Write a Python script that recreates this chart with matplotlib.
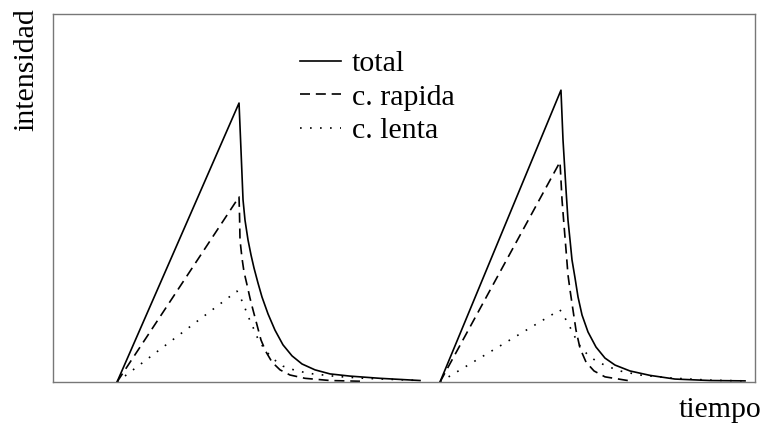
import numpy as np
import matplotlib
matplotlib.use('Agg')
import matplotlib.pyplot as plt

plt.rcParams['font.family'] = ['Liberation Serif', 'DejaVu Serif']

# pulse 1 (time, intensity)
t_total1 = [0.912, 2.650, 2.678, 2.707, 2.735, 2.778, 2.821, 2.863, 2.920, 2.977, 3.063,
            3.162, 3.276, 3.405, 3.547, 3.732, 3.946, 4.231, 4.658, 5.228]
y_total1 = [0.0, 0.758, 0.630, 0.495, 0.440, 0.386, 0.345, 0.310, 0.269, 0.231, 0.185,
            0.141, 0.101, 0.071, 0.049, 0.033, 0.022, 0.016, 0.010, 0.004]
t_rap1 = [0.912, 2.650, 2.657, 2.664, 2.692, 2.721, 2.764, 2.806, 2.849, 2.906, 2.963,
          3.034, 3.120, 3.234, 3.376, 3.590, 3.946, 4.373]
y_rap1 = [0.0, 0.503, 0.454, 0.386, 0.337, 0.299, 0.264, 0.228, 0.196, 0.155, 0.114,
          0.082, 0.054, 0.033, 0.019, 0.010, 0.004, 0.002]
t_len1 = [0.912, 2.621, 2.707, 2.778, 2.849, 2.920, 3.020, 3.134, 3.276, 3.476, 3.704,
          4.046, 4.444, 5.228]
y_len1 = [0.0, 0.247, 0.215, 0.179, 0.149, 0.117, 0.087, 0.063, 0.043, 0.030, 0.022,
          0.015, 0.010, 0.004]

# pulse 2
t_total2 = [5.513, 7.236, 7.265, 7.308, 7.336, 7.365, 7.393, 7.436, 7.479, 7.536, 7.621,
            7.735, 7.863, 8.006, 8.219, 8.504, 8.860, 9.359, 9.858]
y_total2 = [0.0, 0.793, 0.658, 0.522, 0.440, 0.386, 0.332, 0.283, 0.231, 0.182, 0.136,
            0.095, 0.065, 0.046, 0.030, 0.018, 0.008, 0.004, 0.003]
t_rap2 = [5.513, 7.222, 7.236, 7.251, 7.279, 7.308, 7.336, 7.365, 7.407, 7.450, 7.507,
          7.593, 7.707, 7.863, 8.219]
y_rap2 = [0.0, 0.598, 0.549, 0.495, 0.427, 0.359, 0.291, 0.250, 0.196, 0.141, 0.092,
          0.054, 0.030, 0.014, 0.003]
t_len2 = [5.513, 7.222, 7.293, 7.365, 7.436, 7.507, 7.607, 7.735, 7.892, 8.077, 8.362,
          8.789, 9.359, 9.858]
y_len2 = [0.0, 0.196, 0.174, 0.149, 0.122, 0.098, 0.076, 0.057, 0.043, 0.030, 0.019,
          0.011, 0.005, 0.003]

labels = ['total', 'c. rapida', 'c. lenta']

fig = plt.figure(figsize=(7.62, 4.26), dpi=100)
ax = fig.add_axes([53/762, 1-382/426, 702/762, 368/426])

lw = 1.2
dash = (6, 3.5)
dot = (1, 5)
ax.plot(t_total1, y_total1, color='k', lw=lw, label=labels[0])
ax.plot(t_rap1, y_rap1, color='k', lw=lw, dashes=dash, label=labels[1])
ax.plot(t_len1, y_len1, color='k', lw=lw, dashes=dot, label=labels[2])
ax.plot(t_total2, y_total2, color='k', lw=lw)
ax.plot(t_rap2, y_rap2, color='k', lw=lw, dashes=dash)
ax.plot(t_len2, y_len2, color='k', lw=lw, dashes=dot)

ax.set_xlim(0, 10)
ax.set_ylim(0, 1)
ax.set_xticks([])
ax.set_yticks([])
for s in ax.spines.values():
    s.set_color('#777777')
    s.set_linewidth(1.0)

ax.legend(loc='upper left', bbox_to_anchor=(0.33, 0.942), frameon=False, fontsize=21.5,
          handlelength=1.4, handletextpad=0.35, labelspacing=0.22, borderpad=0)

fig.text(26/762, 1-8/426, 'intensidad', rotation=90, ha='center', va='top', fontsize=21.5)
fig.text(761/762, 1-417/426, 'tiempo', ha='right', va='baseline', fontsize=21.5)

plt.savefig('out.png', dpi=100)
